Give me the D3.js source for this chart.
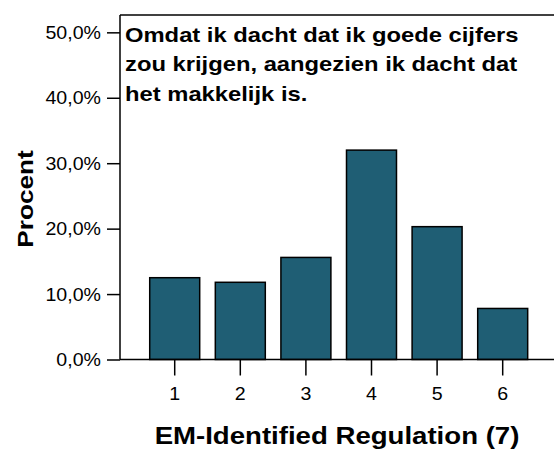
<!DOCTYPE html>
<html>
<head>
    <meta charset="utf-8">
    <style>
        body { margin: 0; background: #fff; }
        svg { display: block; font-family: Arial, 'Liberation Sans', sans-serif; }
    </style>
</head>
<body>
    <svg width="554" height="450"></svg>

<script src="https://d3js.org/d3.v7.min.js"></script>
<script>
    //------------------------ DATA ------------------------//
    let categories = ["1", "2", "3", "4", "5", "6"];
    let percents = [12.5, 11.8, 15.6, 32.0, 20.3, 7.8];
    let yTicks = [0, 10, 20, 30, 40, 50];
    let annotation = [
        "Omdat ik dacht dat ik goede cijfers",
        "zou krijgen, aangezien ik dacht dat",
        "het makkelijk is."
    ];

    //------------------------ SETUP ------------------------//
    let svg = d3.select("svg");
    let plotLeft = 120, plotRight = 560, plotTop = 15, plotBottom = 359.5;
    let stretch = 1.12; // the original glyphs are a bit wider than Arial

    let x = d3.scaleBand()
        .domain(categories)
        .range([plotLeft, 557.4])
        .paddingInner(0.238)
        .paddingOuter(0.453);

    let y = d3.scaleLinear()
        .domain([0, 52.65])
        .range([plotBottom, plotTop]);

    //------------------------ BARS ------------------------//
    svg.append("g")
        .selectAll("rect")
        .data(percents)
        .join("rect")
        .attr("x", (d, i) => x(categories[i]))
        .attr("y", d => y(d))
        .attr("width", x.bandwidth())
        .attr("height", d => y(0) - y(d))
        .style("fill", "#1f5e74")
        .style("stroke", "#000")
        .style("stroke-width", 1.5);

    //------------------------ FRAME ------------------------//
    svg.append("line")
        .attr("x1", plotLeft).attr("x2", plotRight)
        .attr("y1", plotTop).attr("y2", plotTop)
        .style("stroke", "#000").style("stroke-width", 1.5);

    //------------------------ Y AXIS ------------------------//
    let yAxis = svg.append("g")
        .attr("transform", `translate(${plotLeft},0)`)
        .call(d3.axisLeft(y)
            .tickValues(yTicks)
            .tickSize(13)
            .tickFormat(d => d3.format(".1f")(d).replace(".", ",") + "%"));
    yAxis.select(".domain").remove();
    yAxis.append("line")
        .attr("y1", plotTop).attr("y2", plotBottom)
        .style("stroke", "#000").style("stroke-width", 1.5);
    yAxis.selectAll(".tick line").style("stroke-width", 1.5);
    yAxis.selectAll(".tick text")
        .attr("x", null).attr("dy", null)
        .attr("y", 6)
        .attr("transform", `translate(-19,0) scale(${stretch},1)`)
        .style("font-size", "17.5px")
        .style("fill", "#000");

    //------------------------ X AXIS ------------------------//
    let xAxis = svg.append("g")
        .attr("transform", `translate(0,${plotBottom})`)
        .call(d3.axisBottom(x).tickSize(16));
    xAxis.select(".domain").remove();
    xAxis.append("line")
        .attr("x1", plotLeft).attr("x2", plotRight)
        .style("stroke", "#000").style("stroke-width", 1.5);
    xAxis.selectAll(".tick line").style("stroke-width", 1.5);
    xAxis.selectAll(".tick text")
        .attr("y", null).attr("dy", null)
        .attr("transform", `translate(0,40.5) scale(${stretch},1)`)
        .style("font-size", "17.5px")
        .style("fill", "#000");

    //------------------------ TITLES ------------------------//
    svg.append("text")
        .attr("transform", `translate(337,443.5) scale(1.2,1)`)
        .attr("text-anchor", "middle")
        .style("font-size", "23px")
        .style("font-weight", "bold")
        .text("EM-Identified Regulation (7)");

    svg.append("text")
        .attr("transform", `translate(33,199) rotate(-90) scale(1.19,1)`)
        .attr("text-anchor", "middle")
        .style("font-size", "22px")
        .style("font-weight", "bold")
        .text("Procent");

    svg.append("g")
        .selectAll("text")
        .data(annotation)
        .join("text")
        .attr("transform", (d, i) => `translate(125,${41.5 + i * 29.5}) scale(1.16,1)`)
        .style("font-size", "20.5px")
        .style("font-weight", "bold")
        .text(d => d);
</script>
</body>
</html>
